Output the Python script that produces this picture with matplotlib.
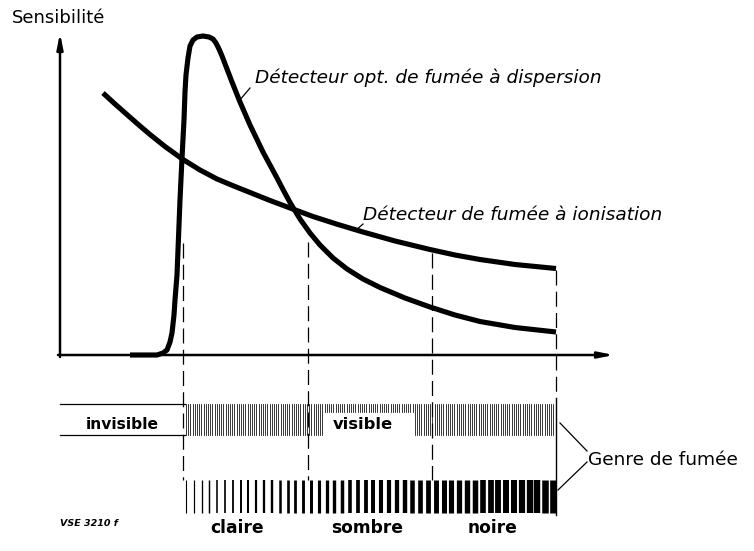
import numpy as np
import matplotlib
matplotlib.use("Agg")
import matplotlib.pyplot as plt

# ---- data (figure in pixel-like units: x to the right, y downward) ----
opt_x = [130, 150, 157, 163, 167, 170, 172, 174, 175, 177, 178, 180, 182, 184, 185, 186, 188, 190, 193,
         197, 203, 209, 213, 216, 219, 222, 227, 232, 240, 250, 263, 277, 283, 290, 300, 310, 320, 333,
         347, 363, 380, 405, 430, 455, 480, 515, 556]
opt_y = [355, 355, 355, 353, 350, 342, 333, 315, 300, 275, 250, 200, 158, 120, 92, 75, 58, 46, 40,
         37, 36, 37, 39, 43, 49, 56, 69, 82, 102, 125, 152, 178, 189.5, 202.5, 219, 233, 245, 258,
         269, 279, 287.5, 298, 307, 315, 321.5, 327.5, 332]

ion_x = [103, 115, 128, 140, 150, 165, 183, 200, 217, 235, 250, 270, 290, 313, 338, 363, 395, 430,
         455, 480, 515, 556]
ion_y = [93, 104, 115.5, 126, 134.5, 146.5, 159.5, 170, 179, 186.5, 192.5, 200.5, 208, 216.5, 224.5,
         232, 241, 249.5, 255, 259.5, 264.5, 268.5]

divider_x = [183, 308, 432, 556]
divider_top = [243, 242, 253, 270]

label_opt = "Détecteur opt. de fumée à dispersion"
label_ion = "Détecteur de fumée à ionisation"
y_label = "Sensibilité"
band_labels = ["invisible", "visible"]
density_labels = ["claire", "sombre", "noire"]
density_label_x = [237, 367, 493]
group_label = "Genre de fumée"
ref_label = "VSE 3210 f"

W, H = 754, 551
fig = plt.figure(figsize=(W / 100, H / 100), dpi=100)
ax = fig.add_axes([0, 0, 1, 1])
ax.set_xlim(0, W)
ax.set_ylim(H, 0)
ax.axis("off")

FONT = "DejaVu Sans"

# axes with arrows
ax.annotate("", xy=(60, 33), xytext=(60, 357),
            arrowprops=dict(arrowstyle="-|>,head_length=0.9,head_width=0.18", lw=1.8, color="black",
                            shrinkA=0, shrinkB=0))
ax.annotate("", xy=(614, 355), xytext=(58, 355),
            arrowprops=dict(arrowstyle="-|>,head_length=0.9,head_width=0.18", lw=1.8, color="black",
                            shrinkA=0, shrinkB=0))
ax.text(12, 23, y_label, fontsize=13, family=FONT, va="baseline", ha="left")

# dashed dividers
for x, top in zip(divider_x, divider_top):
    bottom = 480 if x != 556 else 398
    ax.plot([x, x], [top, bottom], color="black", lw=0.9, ls=(0, (12, 5)), zorder=1)
ax.plot([556, 556], [398, 515], color="black", lw=1.0)

# curves
ax.plot(opt_x, opt_y, color="black", lw=3.7, solid_capstyle="butt", solid_joinstyle="round", zorder=3)
ax.plot(ion_x, ion_y, color="black", lw=3.7, solid_capstyle="butt", solid_joinstyle="round", zorder=3)

ax.text(255, 83, label_opt, fontsize=13.3, style="italic", family=FONT, va="baseline", ha="left")
ax.plot([250, 239], [88, 101], color="black", lw=0.9)
ax.text(363, 220, label_ion, fontsize=13.3, style="italic", family=FONT, va="baseline", ha="left")
ax.plot([363, 355], [224, 231], color="black", lw=0.9)

# invisible / visible band
ax.plot([60, 185], [404, 404], color="black", lw=0.9)
ax.plot([60, 185], [435, 435], color="black", lw=0.9)
ax.text(122, 429, band_labels[0], fontsize=11.2, family=FONT, weight="bold", va="baseline", ha="center")
hx = np.arange(186, 556, 2.2)
for x in hx:
    if 323 < x < 413:
        ax.plot([x, x], [404, 412], color="black", lw=0.55)
    else:
        ax.plot([x, x], [404, 435], color="black", lw=0.55)
ax.text(363, 429, band_labels[1], fontsize=11.8, family=FONT, weight="bold", va="baseline", ha="center")

# density stripes
sx = np.linspace(186, 553, 48)
sw = np.linspace(0.8, 4.8, 48)
for x, w in zip(sx, sw):
    ax.plot([x, x], [480, 513], color="black", lw=w, solid_capstyle="butt")
for t, x in zip(density_labels, density_label_x):
    ax.text(x, 533, t, fontsize=12.3, family=FONT, weight="bold", va="baseline", ha="center")

# bracket
ax.plot([560, 587], [423, 451], color="black", lw=0.9)
ax.plot([558, 587], [490, 462], color="black", lw=0.9)
ax.text(588, 465, group_label, fontsize=13.3, family=FONT, va="baseline", ha="left")

ax.text(60, 526, ref_label, fontsize=6.8, family=FONT, style="italic", weight="bold", va="baseline", ha="left")

fig.savefig("out.png", dpi=100)
